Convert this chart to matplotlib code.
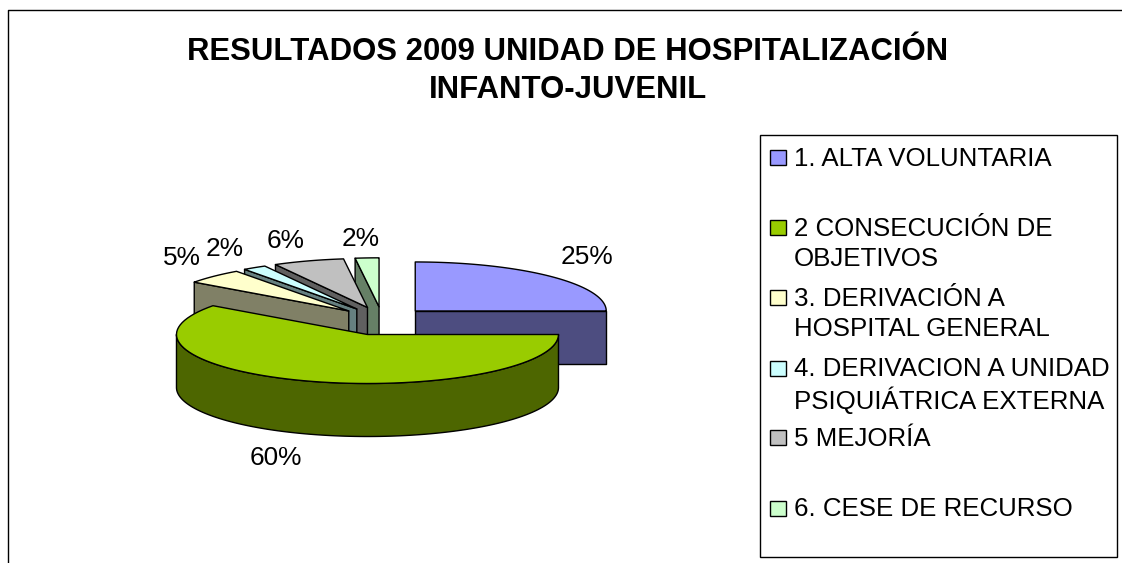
"""
Exploded 3D pie, Excel style. Slices are built as polygons from the shares.
"""
import matplotlib
matplotlib.use('Agg')
import matplotlib.pyplot as plt
from matplotlib.patches import Polygon, Rectangle
import numpy as np

TITLE = 'RESULTADOS 2009 UNIDAD DE HOSPITALIZACIÓN\nINFANTO-JUVENIL'
categories = ['1. ALTA VOLUNTARIA', '2 CONSECUCIÓN DE\nOBJETIVOS',
              '3. DERIVACIÓN A\nHOSPITAL GENERAL',
              '4. DERIVACION A UNIDAD\nPSIQUIÁTRICA EXTERNA',
              '5 MEJORÍA', '6. CESE DE RECURSO']
values = [25, 60, 5, 2, 6, 2]
top_colors = ['#9999FF', '#99CC00', '#FFFFCC', '#CCFFFF', '#C0C0C0', '#CCFFCC']
side_colors = ['#4D4D80', '#4D6600', '#808066', '#668080', '#606060', '#668066']

# pie geometry, in pixels of the picture
CX, CY, RX, RY, DEPTH = 382, 321, 191, 49, 53
EXPLODE_X, EXPLODE_Y = 47, 14.2

plt.rcParams['font.family'] = ['Liberation Sans', 'DejaVu Sans']
fig = plt.figure(figsize=(11.22, 5.63), dpi=100)
ax = fig.add_axes([0, 0, 1, 1])
ax.set_xlim(0, 1122)
ax.set_ylim(563, 0)
ax.axis('off')

# chart frame, cut by the bottom edge of the picture
ax.plot([8, 8, 1122], [563, 10, 10], color='black', lw=1)

ax.text(568, 71, TITLE, ha='center', va='center', fontsize=22.4,
        fontweight='bold', linespacing=1.35)


def ellipse(apex, deg):
    rad = np.radians(deg)
    return np.column_stack([apex[0] + RX * np.sin(rad), apex[1] - RY * np.cos(rad)])


def down(pts):
    return pts + np.array([0, DEPTH])


def draw(pts, color, z):
    ax.add_patch(Polygon(pts, closed=True, facecolor=color, edgecolor='black',
                         lw=1, joinstyle='round', zorder=z))


edges = np.concatenate([[0], np.cumsum(values)]) / np.sum(values) * 360
for i, (start, stop) in enumerate(zip(edges[:-1], edges[1:])):
    mid = np.radians((start + stop) / 2)
    apex = np.array([CX + EXPLODE_X * np.sin(mid), CY - EXPLODE_Y * np.cos(mid)])
    arc = ellipse(apex, np.linspace(start, stop, 80))
    # back slices first, the big front slice goes last
    z = 2 + (i if i == 0 else (7 - i if i > 1 else 8))

    # radial cut faces that look at the viewer
    if i == 0:
        end = arc[-1:]
        face = np.vstack([apex, end, down(end), down(apex[None])])
        draw(face, side_colors[i], z)
    elif i > 1:
        end = arc[:1]
        face = np.vstack([apex, end, down(end), down(apex[None])])
        draw(face, side_colors[i], z)
    # outer wall where the rim faces front (90 to 270 degrees)
    lo, hi = max(start, 90), min(stop, 270)
    if lo < hi:
        rim = ellipse(apex, np.linspace(lo, hi, 120))
        draw(np.vstack([rim, down(rim)[::-1]]), side_colors[i], z)
    draw(np.vstack([apex, arc]), top_colors[i], z + 0.5)

# percent labels
label_xy = [(587, 257), (276, 458), (182, 258), (225, 249), (285.5, 241), (360.5, 239)]
for v, (x, y) in zip(values, label_xy):
    ax.text(x, y, f'{v}%', ha='center', va='center', fontsize=18.9)

# legend box
ax.add_patch(Rectangle((760, 135), 357, 422, facecolor='white', edgecolor='black', lw=1, zorder=1))
legend_y = [157, 227, 297, 368, 437, 508]
line_gap = 30.5
for name, col, y in zip(categories, top_colors, legend_y):
    ax.add_patch(Rectangle((770, y - 7), 16, 15, facecolor=col, edgecolor='black', lw=1, zorder=2))
    for k, line in enumerate(name.split('\n')):
        ax.text(794, y + 1.5 + k * line_gap, line, ha='left', va='center', fontsize=18.6)

fig.savefig('out.png', dpi=100)
plt.close(fig)
